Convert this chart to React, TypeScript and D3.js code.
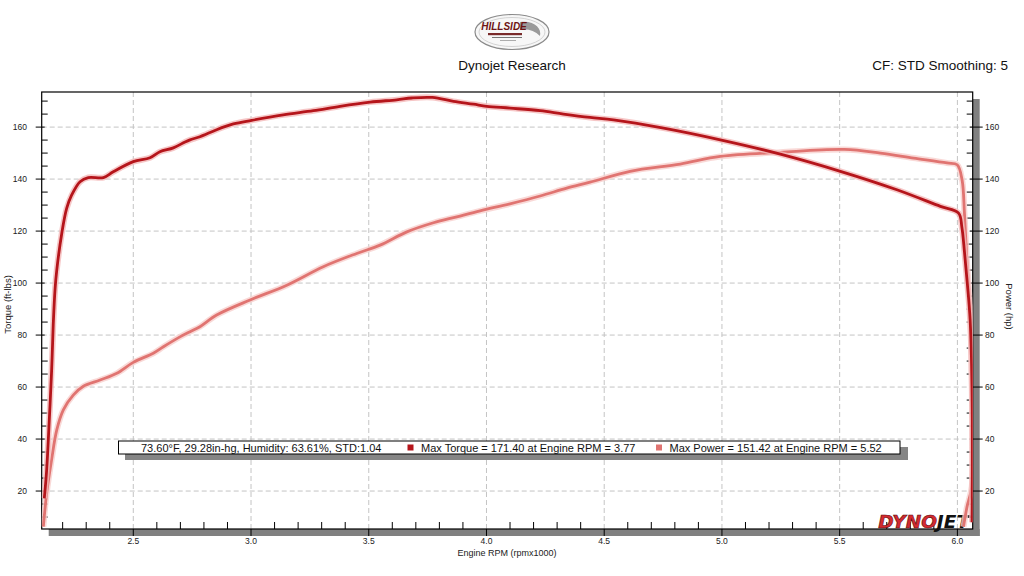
import { useRef, useEffect } from "react";
import * as d3 from "d3";

// Torque run (Engine RPM x1000, ft-lbs)
const torqueRpm = [
  2.122, 2.132, 2.143, 2.153, 2.16, 2.168, 2.175, 2.196, 2.217, 2.238, 2.274, 2.309, 2.373, 2.415,
  2.5, 2.571, 2.613, 2.67, 2.72, 2.741, 2.783, 2.854, 2.925, 3.003, 3.137, 3.265, 3.378, 3.506,
  3.619, 3.683, 3.77, 3.86, 3.945, 4.001, 4.1, 4.228, 4.327, 4.44, 4.539, 4.752, 4.993, 5.248,
  5.503, 5.743, 5.928, 6.005, 6.019, 6.03, 6.042, 6.054, 6.062, 6.063, 6.062,
];
const torqueValues = [
  17.2, 28, 47, 66, 84, 98, 105, 119, 128.7, 133.8, 139, 140.6, 140.6, 142.8,
  146.7, 148.2, 150.5, 152, 154.3, 155.1, 156.3, 159, 161.2, 162.6, 164.7, 166.3, 168, 169.6,
  170.5, 171.2, 171.4, 169.9, 168.8, 168, 167.3, 166.3, 165, 163.7, 162.8, 159.6, 155.1, 149.6,
  143, 135.9, 129.5, 126.9, 121.5, 112, 100, 86, 60, 20, 8,
];

// Power run (Engine RPM x1000, hp)
const powerRpm = [
  2.118, 2.132, 2.153, 2.175, 2.203, 2.245, 2.288, 2.359, 2.43, 2.5, 2.585, 2.628, 2.698, 2.741,
  2.783, 2.854, 2.996, 3.152, 3.307, 3.449, 3.548, 3.662, 3.775, 3.874, 3.973, 4.1, 4.228, 4.341,
  4.44, 4.61, 4.823, 4.993, 5.248, 5.52, 5.673, 5.814, 5.956, 5.999, 6.02, 6.03, 6.041, 6.055,
  6.061, 6.061, 6.041, 6.026,
];
const powerValues = [
  6.3, 19, 32, 43.5, 51.2, 56.9, 60.3, 62.7, 65.3, 69.5, 73, 75.5, 79.3, 81.3,
  83.2, 87.7, 93.5, 99.2, 106.3, 111.4, 114.6, 119.7, 123.2, 125.5, 127.8, 130.5, 133.5, 136.5,
  138.8, 143, 145.8, 148.7, 150.3, 151.4, 150, 148.1, 146.2, 145.5, 139.6, 126.8, 107.7, 88.5,
  60, 21.7, 14, 6.3,
];

const xTicks = [2.5, 3.0, 3.5, 4.0, 4.5, 5.0, 5.5, 6.0];
const yTicks = [20, 40, 60, 80, 100, 120, 140, 160];
const weatherText = "73.60°F, 29.28in-hg, Humidity: 63.61%, STD:1.04";
const legendLabels = [
  "Max Torque = 171.40 at Engine RPM = 3.77",
  "Max Power = 151.42 at Engine RPM = 5.52",
];

const WIDTH = 1024;
const HEIGHT = 576;
const FONT = "Tahoma, 'Liberation Sans', 'DejaVu Sans', sans-serif";
const TORQUE_COLOR = "#b5151b";
const POWER_COLOR = "#e07471";

export default function App() {
  const svgRef = useRef<SVGSVGElement>(null);

  useEffect(() => {
    if (!svgRef.current) return;
    const svg = d3.select(svgRef.current);
    svg.selectAll("*").remove();

    const left = 41.7;
    const right = 972.7;
    const top = 92;
    const bottom = 529;

    const x = d3.scaleLinear().domain([2.111, 6.065]).range([left, right]);
    const y = d3.scaleLinear().domain([5.4, 173.5]).range([bottom, top]);

    svg.append("rect").attr("width", WIDTH).attr("height", HEIGHT).attr("fill", "#ffffff");

    // Header logo (oval badge)
    const logo = svg.append("g").attr("transform", "translate(512,32)");
    logo.append("ellipse").attr("rx", 37).attr("ry", 17.5)
      .attr("fill", "#f7f7f7").attr("stroke", "#8a8a8a").attr("stroke-width", 1.2);
    logo.append("ellipse").attr("rx", 33).attr("ry", 14.5)
      .attr("fill", "none").attr("stroke", "#c9c9c9").attr("stroke-width", 0.8);
    logo.append("path").attr("d", "M8,-10 C22,-12 30,-4 28,4 C22,-2 14,-4 8,-2 Z").attr("fill", "#9a9a9a");
    logo.append("text").attr("x", -8).attr("y", -2).attr("text-anchor", "middle")
      .attr("font-family", FONT).attr("font-size", 10).attr("font-weight", 900)
      .attr("font-style", "italic").attr("fill", "#6e1414").text("HILLSIDE");
    logo.append("rect").attr("x", -24).attr("y", 1).attr("width", 34).attr("height", 2.2).attr("fill", "#7a2a2a");
    logo.append("rect").attr("x", -20).attr("y", 5).attr("width", 30).attr("height", 1).attr("fill", "#777");
    logo.append("rect").attr("x", -12).attr("y", 8).attr("width", 16).attr("height", 0.8).attr("fill", "#999");

    svg.append("text").attr("x", 512).attr("y", 70).attr("text-anchor", "middle")
      .attr("font-family", FONT).attr("font-size", 13.5).attr("fill", "#111").text("Dynojet Research");
    svg.append("text").attr("x", 1008).attr("y", 70).attr("text-anchor", "end")
      .attr("font-family", FONT).attr("font-size", 13.5).attr("fill", "#111").text("CF: STD Smoothing: 5");

    // Frame shadow
    svg.append("rect").attr("x", right).attr("y", top + 7).attr("width", 7).attr("height", bottom - top)
      .attr("fill", "#808080");
    svg.append("rect").attr("x", left + 7).attr("y", bottom).attr("width", right - left).attr("height", 7)
      .attr("fill", "#808080");

    // Grid
    const grid = svg.append("g").attr("stroke", "#c4c4c4").attr("stroke-width", 1).attr("stroke-dasharray", "5,3");
    grid.selectAll("line.v").data(xTicks).join("line").attr("class", "v")
      .attr("x1", (d) => x(d)).attr("x2", (d) => x(d)).attr("y1", top).attr("y2", bottom);
    grid.selectAll("line.h").data(yTicks).join("line").attr("class", "h")
      .attr("x1", left).attr("x2", right).attr("y1", (d) => y(d)).attr("y2", (d) => y(d));

    // Ticks
    const minorX = d3.range(22, 61).map((d) => d / 10).filter((d) => Math.round(d * 10) % 5 !== 0);
    const minorY = d3.range(10, 175, 5).filter((d) => d % 20 !== 0);
    const ticks = svg.append("g").attr("stroke", "#000").attr("stroke-width", 1);
    ticks.selectAll("line.mx").data(minorX).join("line").attr("class", "mx")
      .attr("x1", (d) => x(d)).attr("x2", (d) => x(d)).attr("y1", bottom).attr("y2", bottom - 7);
    ticks.selectAll("line.Mx").data(xTicks).join("line").attr("class", "Mx")
      .attr("x1", (d) => x(d)).attr("x2", (d) => x(d)).attr("y1", bottom).attr("y2", bottom + 7);
    ticks.selectAll("line.myl").data(minorY).join("line").attr("class", "myl")
      .attr("x1", left).attr("x2", left + 6).attr("y1", (d) => y(d)).attr("y2", (d) => y(d));
    ticks.selectAll("line.Myl").data(yTicks).join("line").attr("class", "Myl")
      .attr("x1", left - 6).attr("x2", left + 3).attr("y1", (d) => y(d)).attr("y2", (d) => y(d));
    ticks.selectAll("line.myr").data(minorY).join("line").attr("class", "myr")
      .attr("x1", right - 6).attr("x2", right).attr("y1", (d) => y(d)).attr("y2", (d) => y(d));
    ticks.selectAll("line.Myr").data(yTicks).join("line").attr("class", "Myr")
      .attr("x1", right - 3).attr("x2", right + 10).attr("y1", (d) => y(d)).attr("y2", (d) => y(d));

    // Frame
    svg.append("rect").attr("x", left).attr("y", top).attr("width", right - left).attr("height", bottom - top)
      .attr("fill", "none").attr("stroke", "#000").attr("stroke-width", 1.2);

    // Tick labels
    const labels = svg.append("g").attr("font-family", FONT).attr("font-size", 8.5).attr("fill", "#222");
    labels.selectAll("text.xl").data(xTicks).join("text").attr("class", "xl")
      .attr("x", (d) => x(d)).attr("y", bottom + 15).attr("text-anchor", "middle").text((d) => d.toFixed(1));
    labels.selectAll("text.yl").data(yTicks).join("text").attr("class", "yl")
      .attr("x", 27).attr("y", (d) => y(d) + 3).attr("text-anchor", "end").text((d) => d);
    labels.selectAll("text.yr").data(yTicks).join("text").attr("class", "yr")
      .attr("x", 985).attr("y", (d) => y(d) + 3).attr("text-anchor", "start").text((d) => d);

    labels.append("text").attr("x", 507).attr("y", 556).attr("text-anchor", "middle")
      .attr("font-size", 9).text("Engine RPM (rpmx1000)");
    labels.append("text").attr("transform", `translate(11,${(top + bottom) / 2 - 6}) rotate(-90)`)
      .attr("text-anchor", "middle").attr("font-size", 9.5).text("Torque (ft-lbs)");
    labels.append("text").attr("transform", `translate(1006,${(top + bottom) / 2 - 4}) rotate(90)`)
      .attr("text-anchor", "middle").attr("font-size", 9.5).text("Power (hp)");

    // DYNOJET watermark
    const dj = svg.append("text").attr("x", 969).attr("y", 528).attr("text-anchor", "end")
      .attr("font-family", "'DejaVu Sans', sans-serif").attr("font-size", 18.5).attr("font-weight", 900)
      .attr("font-style", "italic").attr("letter-spacing", 0);
    dj.append("tspan").attr("fill", "#d42a30").attr("stroke", "#5a0a0a").attr("stroke-width", 0.6).text("DYNO");
    dj.append("tspan").attr("fill", "#111").text("JET");

    // Curves
    svg.append("clipPath").attr("id", "plot-clip").append("rect")
      .attr("x", left).attr("y", top).attr("width", right - left).attr("height", bottom - top);
    const plot = svg.append("g").attr("clip-path", "url(#plot-clip)");

    const line = d3.line<[number, number]>()
      .x((d) => x(d[0]))
      .y((d) => y(d[1]))
      .curve(d3.curveCatmullRom.alpha(0.5));

    const series = [
      { pts: powerRpm.map((r, i) => [r, powerValues[i]] as [number, number]), color: POWER_COLOR, halo: "#f8cfcd" },
      { pts: torqueRpm.map((r, i) => [r, torqueValues[i]] as [number, number]), color: TORQUE_COLOR, halo: "#f4b9b9" },
    ];
    series.forEach((s) => {
      plot.append("path").attr("d", line(s.pts)).attr("fill", "none")
        .attr("stroke", s.halo).attr("stroke-width", 6).attr("stroke-linejoin", "round").attr("opacity", 0.8);
      plot.append("path").attr("d", line(s.pts)).attr("fill", "none")
        .attr("stroke", s.color).attr("stroke-width", 2.8).attr("stroke-linejoin", "round");
    });

    // Legend box
    const lg = svg.append("g").attr("font-family", FONT).attr("font-size", 11).attr("fill", "#111");
    lg.append("rect").attr("x", 125).attr("y", 447).attr("width", 783).attr("height", 13).attr("fill", "#858585");
    lg.append("rect").attr("x", 118.5).attr("y", 441).attr("width", 781.5).attr("height", 13)
      .attr("fill", "#fff").attr("stroke", "#000").attr("stroke-width", 1);
    lg.append("text").attr("x", 141).attr("y", 451.8).text(weatherText);
    const entries = [
      { sx: 407.5, tx: 421, color: TORQUE_COLOR, label: legendLabels[0] },
      { sx: 656, tx: 669.5, color: POWER_COLOR, label: legendLabels[1] },
    ];
    entries.forEach((e) => {
      lg.append("rect").attr("x", e.sx).attr("y", 444.5).attr("width", 6).attr("height", 6).attr("fill", e.color);
      lg.append("text").attr("x", e.tx).attr("y", 451.8).text(e.label);
    });
  }, []);

  return (
    <svg
      ref={svgRef}
      width={WIDTH}
      height={HEIGHT}
      style={{ position: "absolute", left: 0, top: 0, display: "block" }}
    />
  );
}
